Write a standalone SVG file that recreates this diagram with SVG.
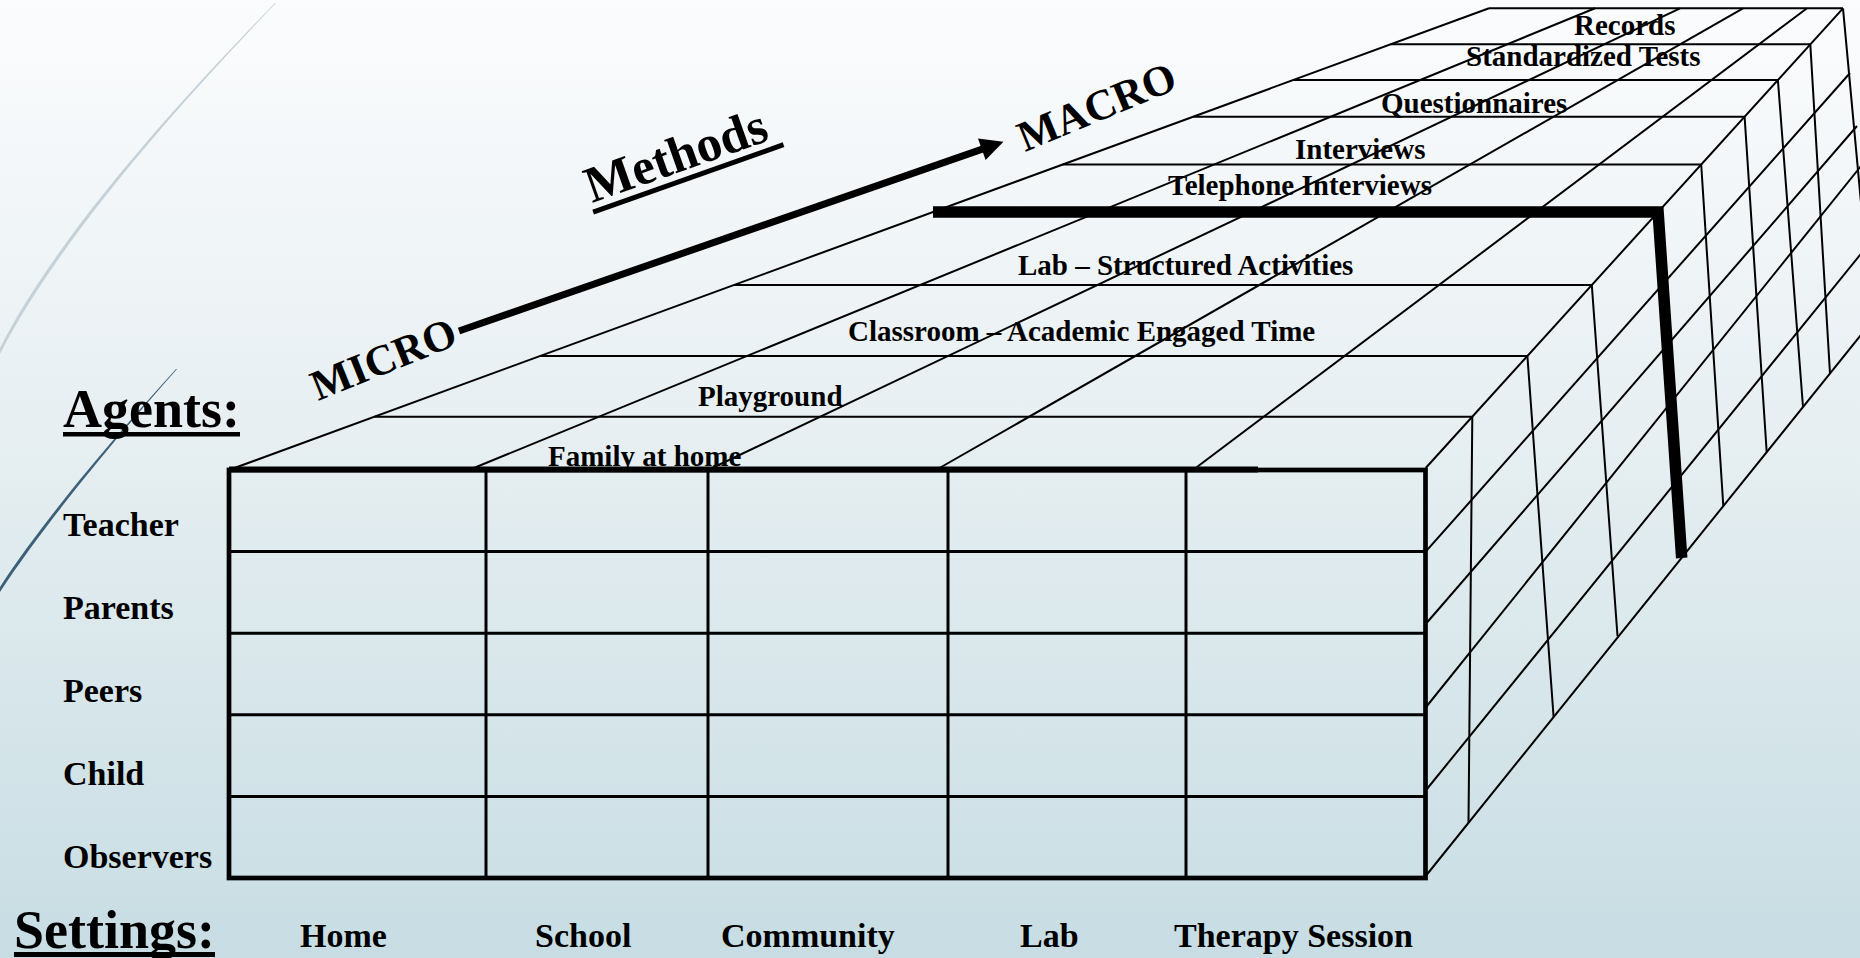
<svg xmlns="http://www.w3.org/2000/svg" width="1860" height="958" viewBox="0 0 1860 958">
<defs>
<linearGradient id="bg" x1="0" y1="0" x2="0" y2="1">
<stop offset="0" stop-color="#fbfcfd"/>
<stop offset="0.45" stop-color="#e7eff2"/>
<stop offset="1" stop-color="#c7dde3"/>
</linearGradient>
</defs>
<style>
.t{font-family:"Liberation Serif","Times New Roman",serif;font-weight:bold;fill:#000}
.ag{font-size:34px}
.st{font-size:34px}
.me{font-size:29px}
.big{font-size:54px}
.thin{stroke:#000;stroke-width:2;fill:none}
.grid{stroke:#000;stroke-width:3;fill:none}
.border{stroke:#000;stroke-width:4.7;fill:none}
.heavy{stroke:#000;stroke-width:11.5;fill:none;stroke-linejoin:miter;stroke-linecap:butt}
</style>
<rect x="0" y="0" width="1860" height="958" fill="url(#bg)"/>
<g id="decor">
<path d="M275,3 C190,90 60,230 0,348 L0,354 C62,233 192,91 276,3 Z" fill="#c6d1d7"/>
<path d="M176,369 C130,420 50,510 0,587 L0,592 C52,513 131,421 177,369 Z" fill="#3d6079"/>
</g>

<g id="labels-methods">
<g id="m-family"><text class="t me" x="548" y="466">Family at home</text></g>
<g id="m-playground"><text class="t me" x="698" y="406">Playground</text></g>
<g id="m-classroom"><text class="t me" x="848" y="341">Classroom – Academic Engaged Time</text></g>
<g id="m-lab"><text class="t me" x="1018" y="275">Lab – Structured Activities</text></g>
<g id="m-telephone"><text class="t me" x="1168" y="195">Telephone Interviews</text></g>
<g id="m-interviews"><text class="t me" x="1295" y="159">Interviews</text></g>
<g id="m-questionnaires"><text class="t me" x="1381" y="113">Questionnaires</text></g>
<g id="m-standardized"><text class="t me" x="1466" y="66">Standardized Tests</text></g>
<g id="m-records"><text class="t me" x="1574" y="35">Records</text></g>
</g>

<g id="front-face">
<path stroke="#000" stroke-width="6" d="M229,469.5H1258"/>
<rect class="border" x="229" y="470" width="1196.5" height="408"/>
<path class="grid" d="M229,551.6H1425.5M229,633.2H1425.5M229,714.8H1425.5M229,796.4H1425.5"/>
<path class="grid" d="M486,470V878M708,470V878M948,470V878M1186,470V878"/>
</g>

<g id="top-face">
<path class="thin" d="M229,470L1489,8.3M469,470L1595,8.3M708,470L1680,8.3M936,470L1743,8.3M1193,470L1807,8.3M1425.7,468L1843,8.3"/>
<path class="thin" d="M374.5,416.7H1472.3M540.1,356H1527.4M733.9,285H1591.8M1062.8,164.5H1701.2M1193.3,116.7H1744.6M1293.4,80H1777.9M1390.8,44.3H1810.3M1489,8.3H1843"/>
</g>

<g id="right-face">
<path class="thin" d="M1472.3,416.7L1468.5,823M1527.4,356L1553.6,717M1591.8,285L1617.5,636M1701.2,164.5L1723.3,506M1744.6,116.7L1766.7,452.3M1777.9,80L1803,407M1810.3,44.3L1830,373.6M1843,8.3L1870,300"/>
<path class="thin" d="M1425.7,551.7L1850,73M1425.7,624L1857,126M1425.7,707.5L1870,154.8M1425.7,790.5L1870,242.7M1425.7,876L1870,323.7"/>
</g>

<g id="boundary">
<path class="heavy" d="M933,212H1658.1L1681.7,558"/>
</g>

<g id="connectors">
<line x1="459" y1="331" x2="983" y2="148.9" stroke="#000" stroke-width="7"/>
<polygon points="1003.5,141.7 978,138.4 985.6,160.1" fill="#000"/>
</g>

<g id="axis-labels">
<g id="micro"><text class="t" font-size="43" transform="translate(318,401) rotate(-22)">MICRO</text></g>
<g id="macro"><text class="t" font-size="43" transform="translate(1025,152) rotate(-22.5)">MACRO</text></g>
<g id="methods" transform="translate(592,203) rotate(-19.5)">
<text class="t" font-size="51" x="0" y="0">Methods</text>
<line x1="-2" y1="9" x2="200" y2="9" stroke="#000" stroke-width="5"/>
</g>
<g id="agents-title">
<text class="t big" x="63" y="427">Agents:</text>
<rect x="63" y="432" width="177" height="4.5" fill="#000"/>
</g>
<g id="settings-title">
<text class="t big" x="14" y="948">Settings:</text>
<rect x="14" y="952" width="201" height="5" fill="#000"/>
</g>
</g>

<g id="labels-agents">
<g id="a-teacher"><text class="t ag" x="63" y="536">Teacher</text></g>
<g id="a-parents"><text class="t ag" x="63" y="619">Parents</text></g>
<g id="a-peers"><text class="t ag" x="63" y="702">Peers</text></g>
<g id="a-child"><text class="t ag" x="63" y="785">Child</text></g>
<g id="a-observers"><text class="t ag" x="63" y="868">Observers</text></g>
</g>

<g id="labels-settings">
<g id="s-home"><text class="t st" x="300" y="947">Home</text></g>
<g id="s-school"><text class="t st" x="535" y="947">School</text></g>
<g id="s-community"><text class="t st" x="721" y="947">Community</text></g>
<g id="s-lab"><text class="t st" x="1020" y="947">Lab</text></g>
<g id="s-therapy"><text class="t st" x="1174" y="947">Therapy Session</text></g>
</g>
</svg>
